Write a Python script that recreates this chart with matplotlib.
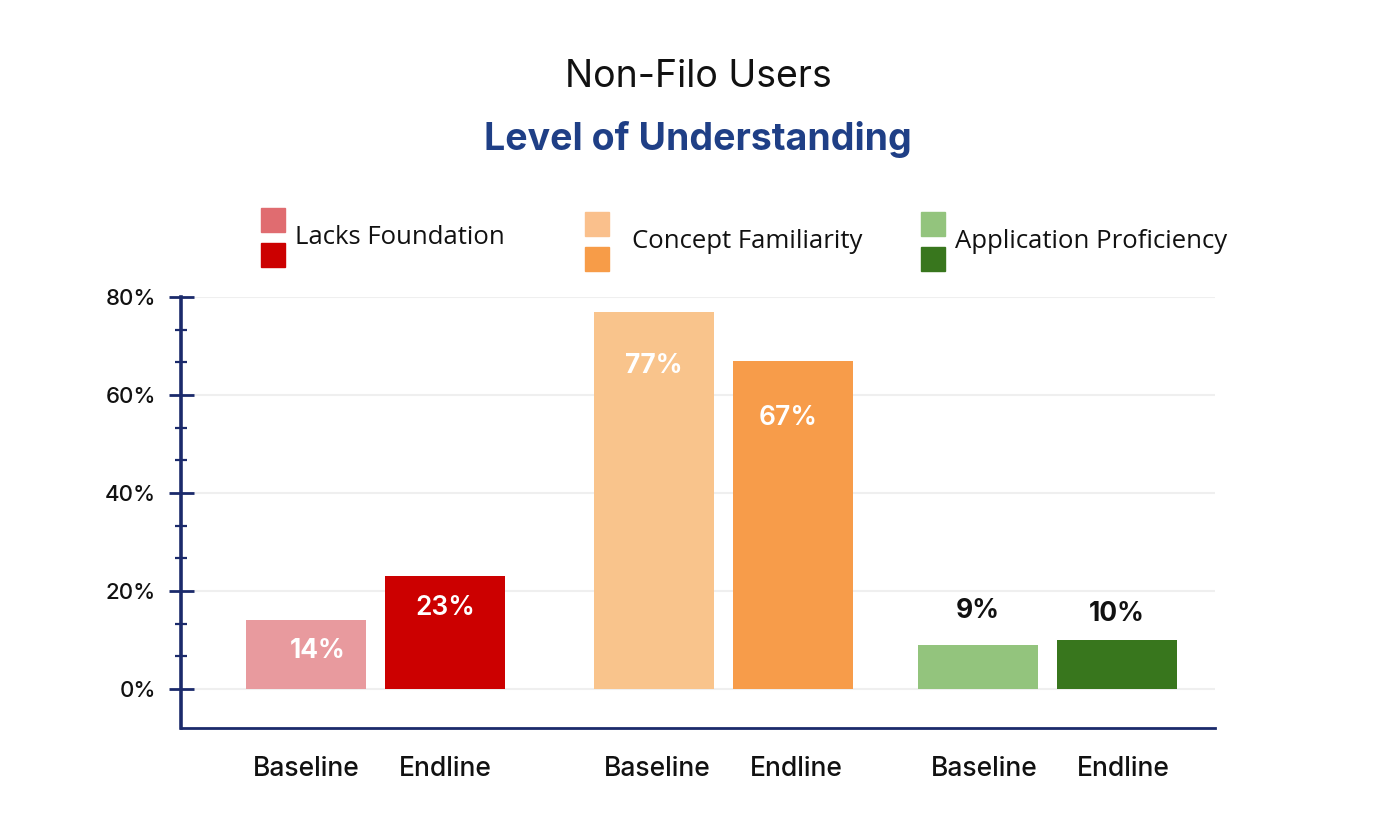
import matplotlib.pyplot as plt
from matplotlib.patches import Rectangle
from matplotlib.ticker import FixedLocator, FuncFormatter

# Data
categories = ['Lacks Foundation', 'Concept Familiarity', 'Application Proficiency']
phases = ['Baseline', 'Endline']
baseline = [14, 77, 9]
endline = [23, 67, 10]

# Colours
bar_colors = [('#E89A9E', '#CC0000'), ('#F9C48C', '#F79C4A'), ('#93C47D', '#38761D')]
legend_colors = [('#E06C70', '#CC0000'), ('#FAC08C', '#F79C48'), ('#93C47D', '#38761D')]
navy = '#1B2A6B'
title_blue = '#1F3F86'

W, H = 1387, 840
fig = plt.figure(figsize=(W / 100, H / 100), dpi=100)
fig.patch.set_facecolor('white')

def fx(px):
    return px / W

def fy(py):
    return 1 - py / H

# axes placed to match the reference frame
ax = fig.add_axes([fx(181), fy(728), fx(1215) - fx(181), fy(297) - fy(728)])
ax.set_ylim(-8, 80)
ax.set_xlim(-0.58, 2.50)

group_x = [0, 1.035, 2.0]
width = 0.357
offset = 0.207
label_font = ['Inter', 'DejaVu Sans']

for i, cat in enumerate(categories):
    for j, vals in enumerate([baseline, endline]):
        x = group_x[i] + (j * 2 - 1) * offset
        ax.bar(x, vals[i], width=width, color=bar_colors[i][j], zorder=3)

# value labels: (group, value, inside?, dx, dy)
label_specs = [
    (0, baseline[0], True, 0.035, -6.3),
    (0, endline[0], True, 0, -6.6),
    (1, baseline[1], True, 0, -11.0),
    (1, endline[1], True, -0.013, -11.7),
    (2, baseline[2], False, 0, 6.9),
    (2, endline[2], False, 0, 5.3),
]
for k, (i, v, inside, dx, dy) in enumerate(label_specs):
    j = k % 2
    x = group_x[i] + (j * 2 - 1) * offset + dx
    color = 'white' if inside else '#111111'
    ax.text(x, v + dy, f'{v}%', ha='center', va='center', fontsize=19,
            fontweight='semibold' if k in (1, 3) else 'bold', color=color,
            family=label_font, zorder=4)

# gridlines
for yv in range(0, 81, 20):
    ax.plot([-0.55, 2.50], [yv, yv], color='#EFEFEF', lw=1.5, zorder=1)

# spines and ticks
for s in ['top', 'right']:
    ax.spines[s].set_visible(False)
ax.spines['left'].set_color(navy)
ax.spines['left'].set_linewidth(2.6)
ax.spines['bottom'].set_color(navy)
ax.spines['bottom'].set_linewidth(2)
ax.set_yticks([0, 20, 40, 60, 80])
ax.yaxis.set_minor_locator(FixedLocator([v * 20 / 3 for v in range(13) if v % 3]))
ax.yaxis.set_major_formatter(FuncFormatter(lambda v, p: f'{int(v)}%'))
ax.tick_params(axis='y', which='major', direction='inout', length=18, width=2,
               color=navy, pad=9, labelsize=16)
ax.tick_params(axis='y', which='minor', direction='inout', length=9, width=1.6,
               color=navy)
for lbl in ax.get_yticklabels():
    lbl.set_family(label_font)
    lbl.set_fontweight('medium')
    lbl.set_color('#111111')

xt = []
xl = []
for i in range(len(categories)):
    for j, ph in enumerate(phases):
        xt.append(group_x[i] + (j * 2 - 1) * offset + 0.01 * i)
        xl.append(ph)
ax.set_xticks(xt)
ax.set_xticklabels(xl, family=label_font, fontsize=19, color='#111111',
                   fontweight='medium')
ax.tick_params(axis='x', length=0, pad=20)

# titles
fig.text(fx(698), fy(77), 'Non-Filo Users', ha='center', va='center',
         fontsize=27, family=label_font, color='#111111')
fig.text(fx(698), fy(140), 'Level of Understanding', ha='center', va='center',
         fontsize=27, fontweight='bold', family=label_font, color=title_blue)

# legend built from squares and text
legend_pos = [(261, 208, 295, 238), (585, 212, 632, 242), (921, 212, 955, 242)]
for (cat, cols, (lx, ly, tx, ty)) in zip(categories, legend_colors, legend_pos):
    for k in range(2):
        top = ly + k * 35
        fig.add_artist(Rectangle((fx(lx), fy(top + 24)), fx(24), fy(top) - fy(top + 24),
                                 transform=fig.transFigure, color=cols[k]))
    fig.text(fx(tx), fy(ty), cat, ha='left', va='center', fontsize=18.5,
             family=['Open Sans', 'DejaVu Sans'], color='#111111')

fig.savefig('out.png', dpi=100)
